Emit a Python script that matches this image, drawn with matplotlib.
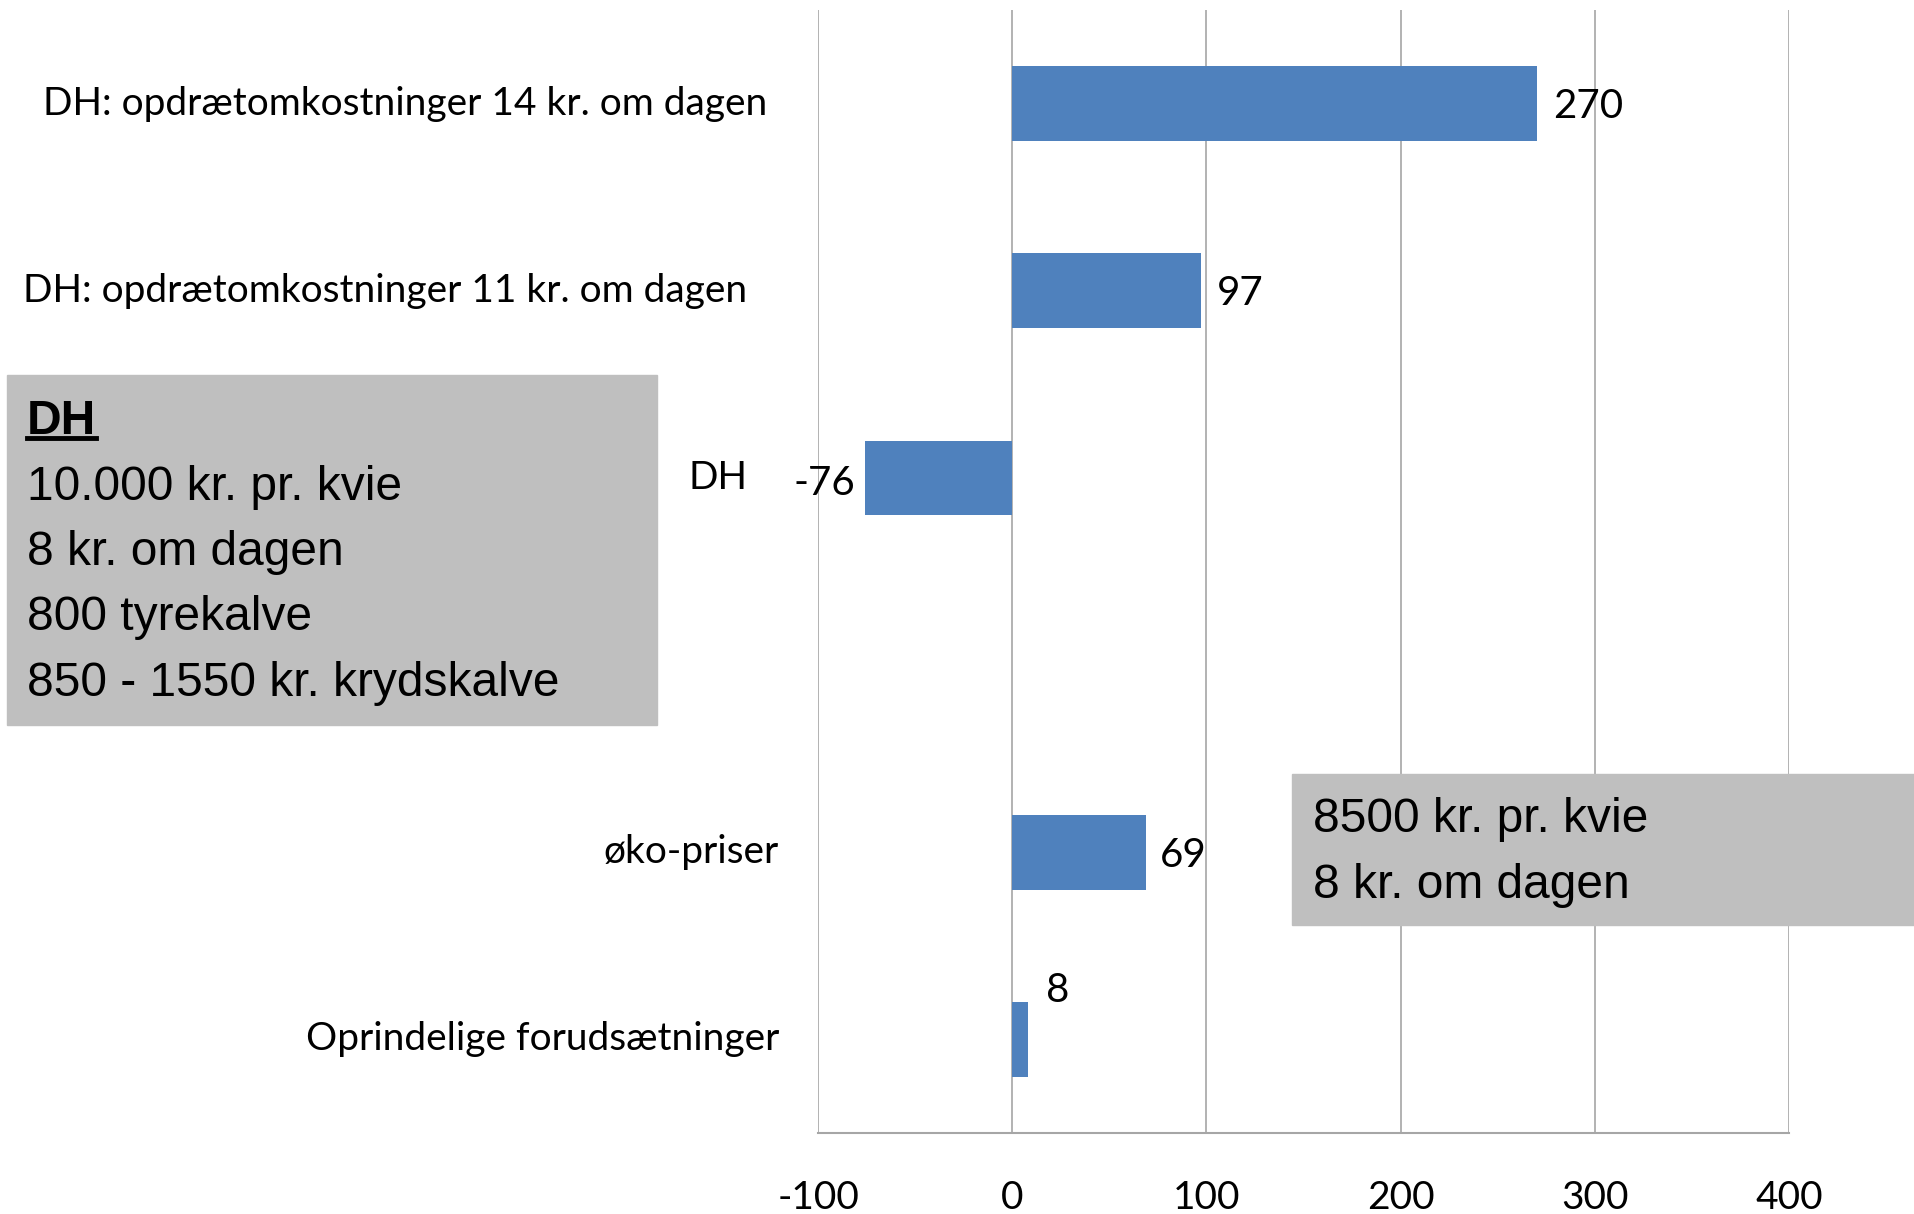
import numpy as np
import matplotlib
matplotlib.use("Agg")
import matplotlib.pyplot as plt
from matplotlib.patches import Rectangle
from matplotlib.lines import Line2D

# data, bottom to top as in the chart
categories = [
    "Oprindelige forudsætninger",
    "øko-priser",
    "",
    "DH",
    "DH: opdrætomkostninger 11 kr. om dagen",
    "DH: opdrætomkostninger 14 kr. om dagen",
]
values = [8, 69, np.nan, -76, 97, 270]
x_ticks = [-100, 0, 100, 200, 300, 400]

box_dh_title = "DH"
box_dh_lines = ["10.000 kr. pr. kvie", "8 kr. om dagen", "800 tyrekalve",
                "850 - 1550 kr. krydskalve"]
box_oko_lines = ["8500 kr. pr. kvie", "8 kr. om dagen"]

# style
bar_color = "#4f81bd"
grid_color = "#a6a6a6"
box_color = "#bfbfbf"
label_font = "Lato"
box_font = "Liberation Sans"
# right edge of each category label, in axes fraction
label_right = [-0.040, -0.040, -0.040, -0.073, -0.073, -0.0525]
# data label offsets in points
label_offsets = [(13, 35), (10, -2), (0, 0), (-7, -4), (12, -2), (12, -2)]

fig = plt.figure(figsize=(19.15, 12.14), dpi=100)
ax = fig.add_axes([0.4272, 0.0667, 0.5070, 0.9250])

y = np.arange(len(categories))
ax.barh(y, values, height=0.4, color=bar_color, zorder=3)

ax.set_xlim(-100, 400)
ax.set_ylim(-0.5, len(categories) - 0.5)
ax.set_xticks(x_ticks)
ax.set_xticklabels([str(t) for t in x_ticks], fontsize=28, family=label_font)
ax.tick_params(axis="x", length=0, pad=34)
ax.set_yticks([])
ax.grid(axis="x", color=grid_color, linewidth=1.2, zorder=0)
ax.set_axisbelow(True)
for side in ["top", "right", "left"]:
    ax.spines[side].set_visible(False)
ax.spines["bottom"].set_color(grid_color)
ax.spines["bottom"].set_linewidth(1.5)

for i, cat in enumerate(categories):
    if cat:
        ax.text(label_right[i], y[i], cat, transform=ax.get_yaxis_transform(),
                ha="right", va="center", fontsize=28, family=label_font)

for i, v in enumerate(values):
    if np.isnan(v):
        continue
    ax.annotate(str(v), (v, y[i]), xytext=label_offsets[i],
                textcoords="offset points",
                ha="left" if v >= 0 else "right", va="center",
                fontsize=29, family=label_font, zorder=4)

# gray boxes
fig.patches.append(Rectangle((0.0037, 0.4028), 0.3394, 0.2883,
                             transform=fig.transFigure, color=box_color,
                             zorder=5))
fig.patches.append(Rectangle((0.6747, 0.2381), 0.3253, 0.1244,
                             transform=fig.transFigure, color=box_color,
                             zorder=5))

W, H = 1915, 1214
title = fig.text(27 / W, 1 - 421 / H, box_dh_title, fontsize=34.5,
                 fontweight="bold", family=box_font, va="center", zorder=6)
for k, line in enumerate(box_dh_lines):
    fig.text(27 / W, 1 - (487 + 65.5 * k) / H, line, fontsize=34.5,
             family=box_font, va="center", zorder=6)
for k, line in enumerate(box_oko_lines):
    fig.text(1313 / W, 1 - (819 + 66 * k) / H, line, fontsize=34.5,
             family=box_font, va="center", zorder=6)

# underline the box title
fig.canvas.draw()
bb = title.get_window_extent().transformed(fig.transFigure.inverted())
fig.lines.append(Line2D([bb.x0, bb.x1], [1 - 438 / H, 1 - 438 / H],
                        transform=fig.transFigure, color="black",
                        linewidth=3.5, zorder=6))

fig.savefig("out.png", dpi=100)
